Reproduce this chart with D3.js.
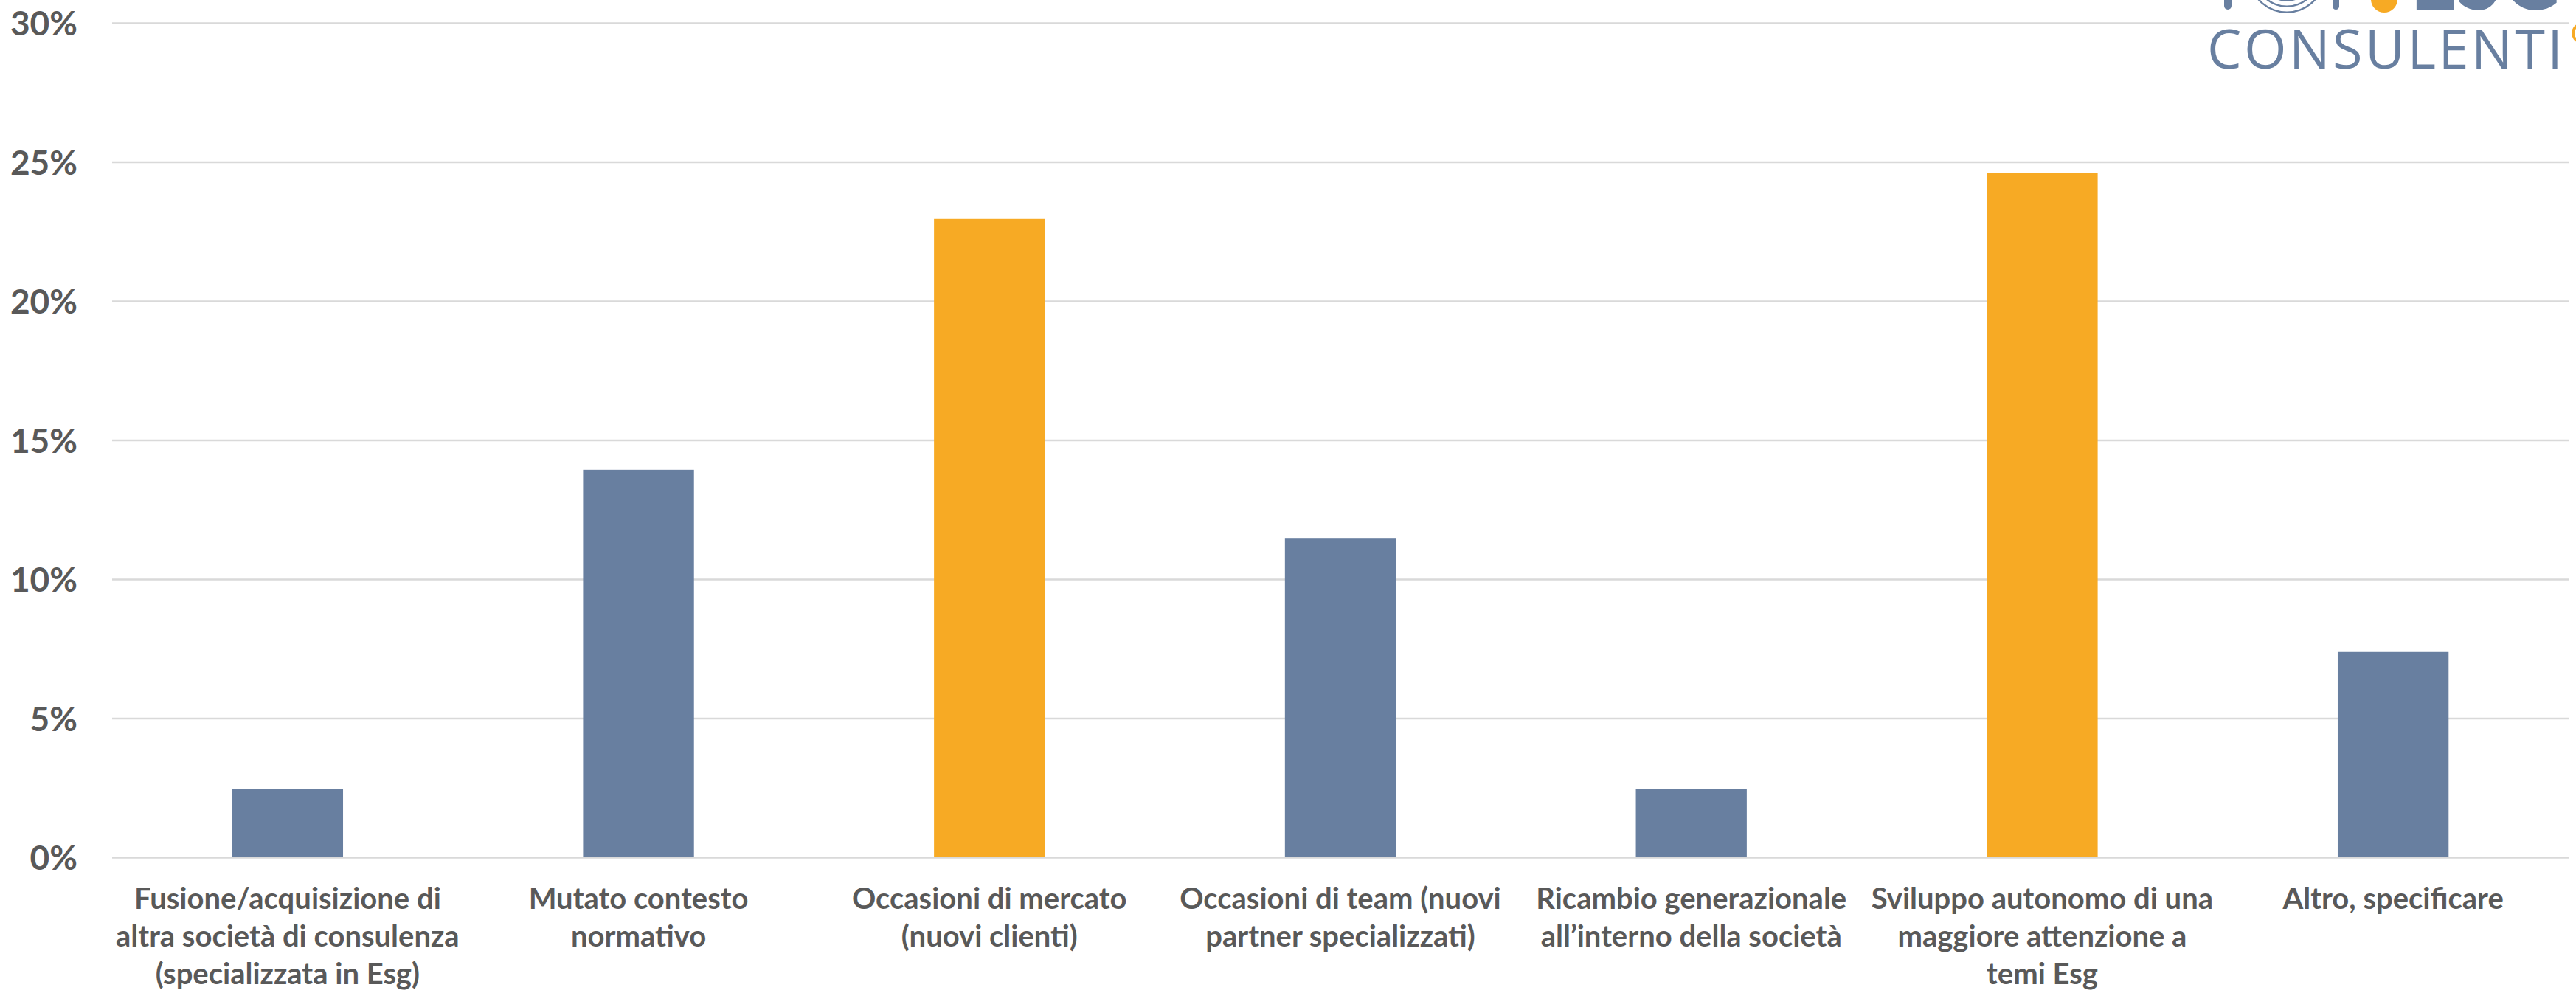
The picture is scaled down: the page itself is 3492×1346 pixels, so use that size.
<!DOCTYPE html>
<html>
<head>
<meta charset="utf-8">
<script src="https://cdn.jsdelivr.net/npm/d3@7"></script>
<style>
  html, body { margin: 0; padding: 0; background: #ffffff; }
  svg { display: block; }
</style>
</head>
<body>
<svg id="chart" width="3492" height="1346"></svg>
<script>
// ---- data ----
const categories = [
  "Fusione/acquisizione di\naltra società di consulenza\n(specializzata in Esg)",
  "Mutato contesto\nnormativo",
  "Occasioni di mercato\n(nuovi clienti)",
  "Occasioni di team (nuovi\npartner specializzati)",
  "Ricambio generazionale\nall’interno della società",
  "Sviluppo autonomo di una\nmaggiore attenzione a\ntemi Esg",
  "Altro, specificare"
];
const values = [2.46, 13.93, 22.95, 11.48, 2.46, 24.59, 7.38];
const yTicks = [0, 5, 10, 15, 20, 25, 30];
const yTickLabels = ["0%", "5%", "10%", "15%", "20%", "25%", "30%"];
const logoTop = ["E", "S", "G"];
const logoText = "CONSULENTI";

// ---- layout ----
const W = 3492, H = 1346;
const plotLeft = 152, plotRight = 3482, plotTop = 31, plotBottom = 1162;
const BLUE = "#687fa0", ORANGE = "#f7aa24", TEXT = "#595959", GRID = "#d9d9d9";

const svg = d3.select("#chart");
svg.append("rect").attr("width", W).attr("height", H).attr("fill", "#ffffff");

const x = d3.scaleBand().domain(categories).range([plotLeft, plotRight])
  .paddingInner(0.684).paddingOuter(0.342);
const y = d3.scaleLinear().domain([0, 30]).range([plotBottom, plotTop]);

// y axis + gridlines
const yAxis = d3.axisLeft(y).tickValues(yTicks)
  .tickSize(-(plotRight - plotLeft)).tickPadding(47)
  .tickFormat((d, i) => yTickLabels[i]);
const gy = svg.append("g").attr("transform", `translate(${plotLeft},0)`).call(yAxis);
gy.select(".domain").remove();
gy.selectAll(".tick line").attr("stroke", GRID).attr("stroke-width", 2.5);
gy.selectAll(".tick text")
  .attr("fill", TEXT)
  .attr("font-family", "Lato, 'Open Sans', sans-serif")
  .attr("font-weight", 700)
  .attr("font-size", 46)
  .attr("dy", "0.36em");

// bars
svg.append("g").selectAll("rect")
  .data(values)
  .join("rect")
  .attr("x", (d, i) => x(categories[i]))
  .attr("width", x.bandwidth())
  .attr("y", d => y(d))
  .attr("height", d => y(0) - y(d))
  .attr("fill", d => d > 20 ? ORANGE : BLUE);

// x axis labels
const xAxis = d3.axisBottom(x).tickSize(0).tickPadding(0);
const gx = svg.append("g").attr("transform", `translate(0,${plotBottom})`).call(xAxis);
gx.select(".domain").remove();
gx.selectAll(".tick text").each(function(d) {
  const t = d3.select(this);
  t.text(null).attr("y", 70).attr("dy", null)
    .attr("fill", TEXT)
    .attr("font-family", "Lato, 'Open Sans', sans-serif")
    .attr("font-weight", 700)
    .attr("font-size", 40)
    .attr("text-anchor", "middle");
  d.split("\n").forEach((line, k) => {
    t.append("tspan").attr("x", 0).attr("y", 70 + k * 51).text(line);
  });
});

// logo (top right, partially cut)
const logo = svg.append("g");
logo.append("rect").attr("x", 3015).attr("y", -40).attr("width", 10).attr("height", 53).attr("rx", 5).attr("fill", BLUE);
logo.append("rect").attr("x", 3162).attr("y", -40).attr("width", 9).attr("height", 53).attr("rx", 4.5).attr("fill", BLUE);
[20, 28, 36, 44, 52].forEach((r) => {
  logo.append("path")
    .attr("d", d3.arc()({innerRadius: r - 2.5, outerRadius: r, startAngle: Math.PI * 0.55, endAngle: Math.PI * 1.45}))
    .attr("transform", "translate(3100,-34)")
    .attr("fill", BLUE);
});
logo.append("circle").attr("cx", 3232).attr("cy", -1).attr("r", 18).attr("fill", ORANGE);
logo.append("text")
  .attr("x", 3267).attr("y", 13)
  .attr("textLength", 204).attr("lengthAdjust", "spacingAndGlyphs")
  .attr("font-family", "Lato, 'Open Sans', sans-serif")
  .attr("font-weight", 700)
  .attr("font-size", 130)
  .attr("fill", BLUE)
  .text(logoTop.join(""));
logo.append("path")
  .attr("d", d3.arc()({innerRadius: 10, outerRadius: 14, startAngle: Math.PI * 1.1, endAngle: Math.PI * 1.9}))
  .attr("transform", "translate(3500,45)")
  .attr("fill", ORANGE);
logo.append("text")
  .attr("x", 2992).attr("y", 93)
  .attr("textLength", 482).attr("lengthAdjust", "spacing")
  .attr("font-family", "'Open Sans', Lato, sans-serif")
  .attr("font-weight", 400)
  .attr("font-size", 74)
  .attr("fill", BLUE)
  .text(logoText);
</script>
</body>
</html>
